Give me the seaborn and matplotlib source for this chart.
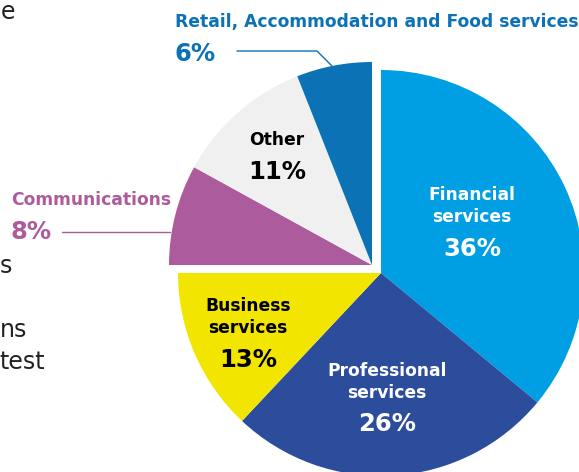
import matplotlib
matplotlib.use("Agg")
import matplotlib.pyplot as plt
import seaborn as sns

# sector shares (%), clockwise from 12 o'clock
sectors = ["Financial services", "Professional services", "Business services",
           "Communications", "Other", "Retail, Accommodation and Food services"]
shares = [36, 26, 13, 8, 11, 6]
colors = ["#009FE3", "#2C4C9C", "#F2E500", "#AC5C9C", "#F0F0F0", "#0B72B6"]
pulled_out = [False, False, False, True, True, True]

W, H = 579, 472


def yy(y):
    # image-style y (from top) -> data y
    return H - y


if __name__ == '__main__':
    sns.set_theme(style="white")
    plt.rcParams['font.family'] = ['DejaVu Sans']

    fig = plt.figure(figsize=(W / 100, H / 100), dpi=100)
    ax = fig.add_axes([0, 0, 1, 1])

    wedges, _ = ax.pie(shares, colors=colors, startangle=90, counterclock=False,
                       radius=203, center=(381, yy(273)),
                       wedgeprops=dict(linewidth=0))
    # top-left quarter is pulled away from the centre
    for w, p in zip(wedges, pulled_out):
        if p:
            w.set_center((372, yy(265)))

    ax.set_xlim(0, W)
    ax.set_ylim(0, H)
    ax.set_aspect('equal')
    ax.axis('off')

    name_fs, pct_fs = 12.3, 17.5
    lab = dict(ha='center', va='center', fontweight='bold')
    # in-wedge labels
    ax.text(472, yy(206), "Financial\nservices", color='white', fontsize=name_fs, linespacing=1.35, **lab)
    ax.text(472, yy(249), "36%", color='white', fontsize=pct_fs, **lab)
    ax.text(387, yy(382), "Professional\nservices", color='white', fontsize=name_fs, linespacing=1.35, **lab)
    ax.text(387, yy(424), "26%", color='white', fontsize=pct_fs, **lab)
    ax.text(248, yy(317), "Business\nservices", color='black', fontsize=name_fs, linespacing=1.35, **lab)
    ax.text(248, yy(360), "13%", color='black', fontsize=pct_fs, **lab)
    ax.text(277, yy(140), "Other", color='black', fontsize=name_fs, **lab)
    ax.text(277, yy(172), "11%", color='black', fontsize=pct_fs, **lab)

    # outside labels with leader lines
    ax.text(11, yy(200), "Communications", color=colors[3], fontsize=name_fs,
            ha='left', va='center', fontweight='bold')
    ax.text(11, yy(232), "8%", color=colors[3], fontsize=pct_fs,
            ha='left', va='center', fontweight='bold')
    ax.plot([62, 170], [yy(232), yy(232)], color=colors[3], lw=1)

    ax.text(175, yy(22), "Retail, Accommodation and Food services", color=colors[5],
            fontsize=name_fs, ha='left', va='center', fontweight='bold')
    ax.text(175, yy(54), "6%", color=colors[5], fontsize=pct_fs,
            ha='left', va='center', fontweight='bold')
    ax.plot([237, 317, 332], [yy(51), yy(51), yy(66)], color=colors[5], lw=1)

    # clipped body text from the neighbouring column
    body = dict(va='center', color='#222222', fontsize=17)
    ax.text(15, yy(12), "e", ha='right', **body)
    ax.text(0, yy(266), "s", ha='left', **body)
    ax.text(0, yy(330), "ns", ha='left', **body)
    ax.text(45, yy(362), "test", ha='right', **body)

    fig.savefig("out.png", dpi=100)
